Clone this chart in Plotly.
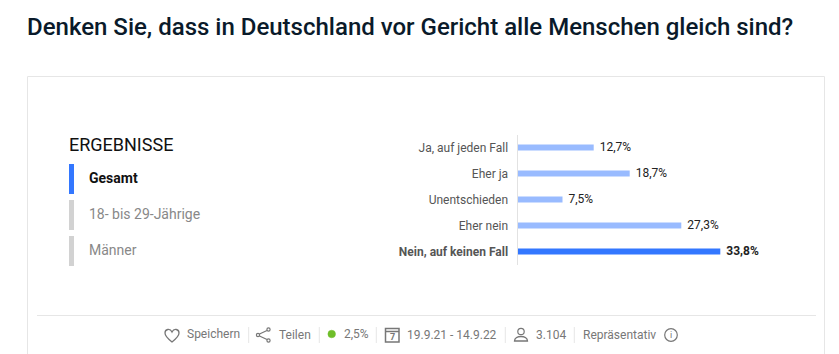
import plotly.graph_objects as go

categories = ["Ja, auf jeden Fall", "Eher ja", "Unentschieden", "Eher nein", "Nein, auf keinen Fall"]
values = [12.7, 18.7, 7.5, 27.3, 33.8]
value_labels = ["12,7%", "18,7%", "7,5%", "27,3%", "33,8%"]
highlight_index = 4
groups = ["Gesamt", "18- bis 29-Jährige", "Männer"]

W, H = 839, 354
BLUE, LIGHT = "#3377ff", "#99bbff"
GREY = "#777777"
FONT = "Roboto, sans-serif"


def px(x):
    return x / W


def py(y):
    return 1 - y / H


def path(*items):
    out = []
    for it in items:
        if isinstance(it, str):
            out.append(it)
        else:
            out.append(f"{px(it[0]):.5f} {py(it[1]):.5f}")
    return " ".join(out)


shapes, notes = [], []


def rect(x0, y0, x1, y1, fill):
    shapes.append(dict(type="rect", xref="paper", yref="paper", x0=px(x0), x1=px(x1), y0=py(y0), y1=py(y1),
                       fillcolor=fill, line_width=0, layer="below"))


def line(x0, y0, x1, y1, color="#e6e6e6", w=1):
    shapes.append(dict(type="line", xref="paper", yref="paper", x0=px(x0), x1=px(x1), y0=py(y0), y1=py(y1),
                       line=dict(color=color, width=w), layer="below"))


def circle(cx, cy, r, fill="rgba(0,0,0,0)", color=GREY, w=1.2):
    shapes.append(dict(type="circle", xref="paper", yref="paper", x0=px(cx - r), x1=px(cx + r), y0=py(cy - r), y1=py(cy + r),
                       fillcolor=fill, line=dict(color=color, width=w)))


def icon(d, w=1.3):
    shapes.append(dict(type="path", xref="paper", yref="paper", path=d, line=dict(color=GREY, width=w)))


def text(x, y, s, size=12, color=GREY, weight=400, anchor="left"):
    notes.append(dict(xref="paper", yref="paper", x=px(x), y=py(y), text=s, showarrow=False, xanchor=anchor,
                      yanchor="middle", xshift=0, borderpad=0, borderwidth=0,
                      font=dict(family=FONT, size=size, color=color, weight=weight)))


# card
line(27.5, 76.5, 824.5, 76.5)
line(27.5, 76.5, 27.5, 354)
line(824.5, 76.5, 824.5, 354)
line(37, 315.5, 816, 315.5)

# heading and left menu
text(27, 27.5, "Denken Sie, dass in Deutschland vor Gericht alle Menschen gleich sind?", size=24, color="#0a1a2a", weight=500)
text(69, 145, "ERGEBNISSE", size=18, color="#111111")
for i, g in enumerate(groups):
    top = 164 + 36 * i
    rect(69, top, 74, top + 30, BLUE if i == 0 else "#d2d2d2")
    if i == 0:
        text(89, top + 14, g, size=14, color="#111111", weight=700)
    else:
        text(89, top + 14, g, size=14, color="#888888")

# footer
for sx in [248.7, 319.3, 376.3, 505.3, 574.3]:
    line(sx, 327, sx, 343)
text(187, 334, "Speichern")
text(279.3, 334.5, "Teilen")
text(344, 334, "2,5%")
text(407, 334.5, "19.9.21 - 14.9.22")
text(536, 334.5, "3.104")
text(583.3, 334.5, "Repräsentativ")
circle(331.7, 334, 3.8, fill="#6fbe2a", color="#6fbe2a", w=0.5)
icon(path("M", (172, 342), "C", (167, 338), (165, 336), (165, 333), "C", (165, 329), (170, 328), (172, 332),
          "C", (174, 328), (179, 329), (179, 333), "C", (179, 336), (177, 338), (172, 342), "Z"))
icon(path("M", (259.5, 334), "L", (267, 330.5), "M", (259.5, 336), "L", (267, 339.5)))
circle(258, 335, 1.6)
circle(268.5, 329.5, 1.6)
circle(268.5, 340.5, 1.6)
icon(path("M", (385.5, 328.5), "L", (399, 328.5), "L", (399, 342), "L", (385.5, 342), "Z", "M", (385.5, 331.5), "L", (399, 331.5)), w=1.5)
text(392.2, 337, "7", size=9, color=GREY, weight=700, anchor="center")
circle(521, 331.5, 3.2)
icon(path("M", (514.5, 341), "C", (514.5, 335), (527.5, 335), (527.5, 341), "Z"))
circle(671, 335, 6.3)
text(671, 335, "i", size=9, color=GREY, anchor="center")

colors = [BLUE if i == highlight_index else LIGHT for i in range(len(values))]
bar_text = [f"<b>\u00a0{t}</b>" if i == highlight_index else f"\u00a0{t}" for i, t in enumerate(value_labels)]
tick_text = [f"<b>{c}</b>" if i == highlight_index else c for i, c in enumerate(categories)]

fig = go.Figure(go.Bar(
    x=values, y=categories, orientation="h", marker=dict(color=colors, line_width=0), width=0.235,
    text=bar_text, textposition="outside", cliponaxis=False, constraintext="none",
    textfont=dict(family=FONT, size=12, color="#222222"),
))
fig.update_layout(
    width=W, height=H, margin=dict(l=0, r=0, t=0, b=0, pad=0), paper_bgcolor="white", plot_bgcolor="white",
    showlegend=False, shapes=shapes, annotations=notes, font=dict(family=FONT),
)
fig.update_xaxes(domain=[517.5 / W, 787.5 / W], range=[0, 45], visible=False)
fig.update_yaxes(domain=[1 - 264.5 / H, 1 - 134.5 / H], autorange="reversed", showline=True, linecolor="#e2e2e2", linewidth=1,
                 showgrid=False, zeroline=False, ticks="outside", ticklen=6, tickcolor="rgba(0,0,0,0)",
                 tickmode="array", tickvals=categories, ticktext=tick_text,
                 tickfont=dict(family=FONT, size=12, color="#555555"), automargin=False)
fig.write_html("out.html", post_script="document.body.style.margin='0';", config=dict(displayModeBar=False))
